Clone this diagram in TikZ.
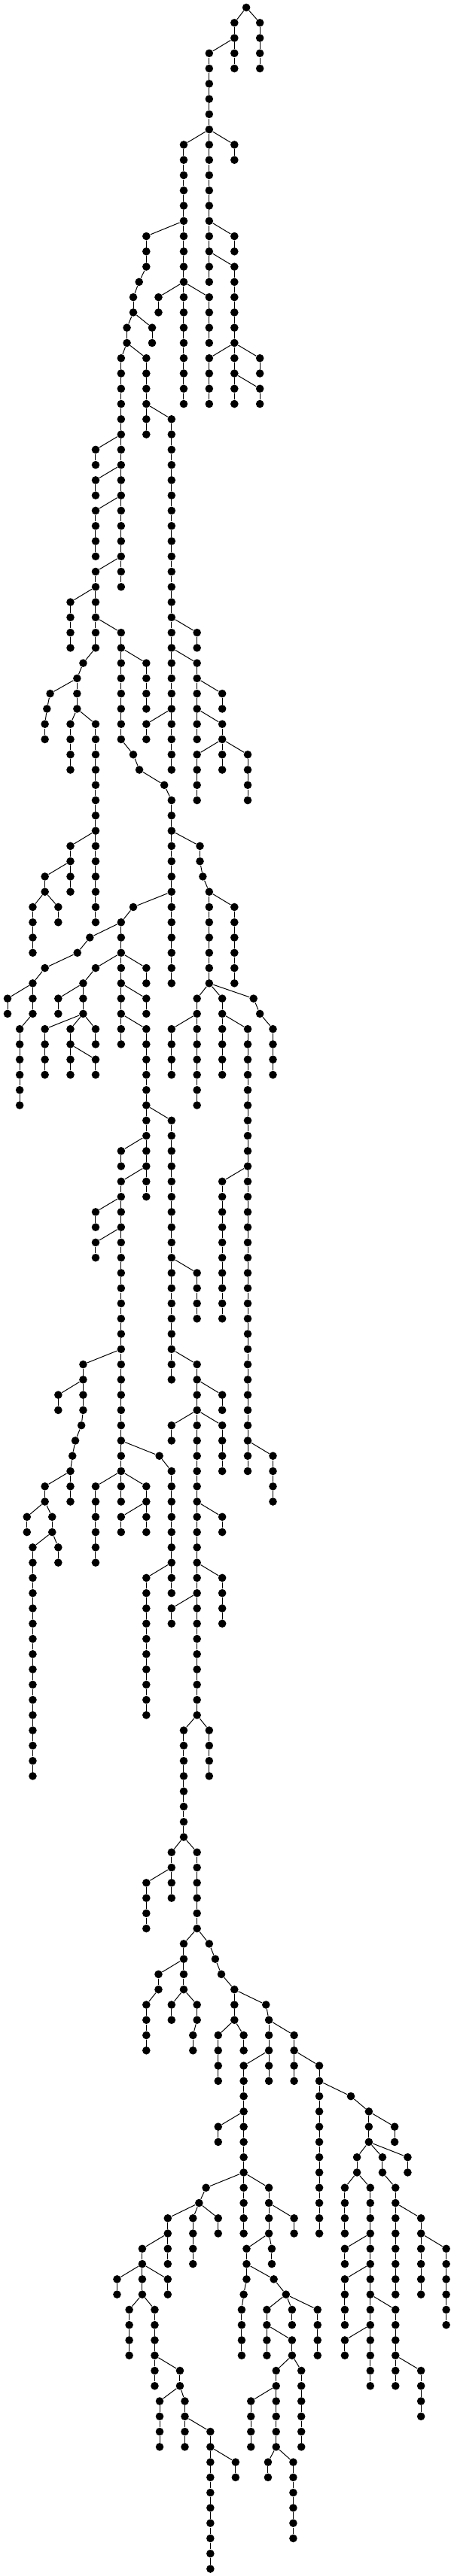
\documentclass[tikz,border=0pt]{standalone}
\usepackage{tikz}
\newcommand{\treerun}[3]{%
  \pgfmathtruncatemacro{\runa}{#2}\pgfmathtruncatemacro{\runb}{#3}%
  \foreach \lev in {\runa,...,\runb}{%
    \node[dot] (n-#1-\lev) at (#1,\lev) {};
    \ifnum\lev>\runa\relax
      \pgfmathtruncatemacro{\prevlev}{\lev-1}\draw (n-#1-\prevlev) -- (n-#1-\lev);
    \fi
  }%
}
\newcommand{\treelink}[3]{%
  \pgfmathtruncatemacro{\nextlev}{#2+1}\draw (n-#1-#2) -- (n-#3-\nextlev);%
}
\begin{document}
\begin{tikzpicture}[x=0.38481pt, y=-20.27pt,
      line width=1pt,
      dot/.style={circle, fill=black, draw=none, inner sep=0pt, minimum size=10.6pt}]
  \useasboundingbox (0,-0.4933) rectangle (1554,168.47);
  \foreach \px/\pa/\pb in {850/0/0, 897/1/4, 809/1/4, 722/3/18, 809/9/10, 634/9/26,
      547/19/20, 722/19/22, 809/15/16, 809/17/26, 722/23/26, 897/23/24, 897/25/26,
      505/15/17, 480/18/18, 460/19/20, 525/21/22, 438/21/22, 418/23/38, 505/23/28,
      330/29/30, 330/31/32, 330/33/36, 330/37/42, 243/39/42, 418/41/48, 505/43/46,
      460/49/49, 481/50/50, 567/51/51, 592/52/64, 690/55/56, 700/57/57, 722/58/64, 809/59/64,
      592/27/50, 680/41/42, 680/43/48, 767/45/46, 767/47/50, 680/49/52, 855/49/52, 505/47/48,
      287/43/43, 266/44/46, 173/45/45, 162/46/46, 155/47/48, 243/47/50, 330/47/60,
      243/55/58, 155/57/58, 113/59/62, 201/59/60,
      680/65/72, 592/67/70, 767/65/70, 855/67/96, 767/77/86, 942/95/98, 875/65/65, 897/66/66, 942/67/70,
      460/59/59, 418/60/68, 310/61/61, 267/62/62, 155/63/63, 113/64/66, 26/65/66, 68/67/72,
      330/63/63, 287/64/66, 201/65/66, 155/67/70, 243/67/70, 330/69/70, 330/67/68,
      505/63/64, 505/65/66, 505/67/78, 418/75/76, 418/77/98, 330/79/80, 330/81/82,
      287/89/92, 201/91/92, 281/93/93, 260/94/94, 250/95/95, 243/96/98, 155/97/98,
      93/99/100, 180/99/100, 113/101/116, 201/101/102,
      550/95/95, 592/96/104, 505/103/112, 330/97/102, 505/97/100, 418/99/100,
      592/73/90, 680/83/86, 680/89/112, 767/91/92, 592/93/94, 767/93/96, 767/99/100,
      767/103/106, 592/105/106,
      722/113/116, 634/113/120, 592/121/124, 505/123/126, 680/121/126,
      634/127/130, 547/129/130, 505/131/134, 592/131/132, 680/131/132, 666/133/134,
      722/127/127, 743/128/128, 764/129/129, 809/130/132, 753/133/136, 841/133/134,
      918/131/131, 928/132/136, 841/135/146, 753/139/140, 1015/133/136, 1102/135/146,
      1211/137/137, 1273/138/140, 1362/139/140, 1407/141/142, 1320/141/142, 1365/143/150,
      1453/145/150, 1540/147/152,
      1232/141/142, 1190/143/146, 1278/143/156, 1190/147/148, 1190/149/152, 1190/153/154,
      1365/151/156, 1453/155/158,
      711/143/143, 687/144/144, 753/145/146, 666/145/148, 579/145/148, 491/147/150,
      404/149/150, 579/149/150,
      446/151/154, 534/151/156, 621/155/156, 551/157/160, 638/157/160, 726/159/168, 813/161/162,
      928/143/146, 1015/145/146, 938/147/148, 851/147/149, 841/150/150, 834/151/154,
      945/149/149, 987/150/150,
      921/151/154, 1008/153/154, 953/155/160, 866/157/160, 925/161/162, 1012/161/166,
      1040/155/160, 1008/151/152, 1096/151/154}
    {\treerun{\px}{\pa}{\pb}}
  \foreach \px/\pl/\cx in {850/0/809, 850/0/897, 809/2/722,
      722/8/634, 722/8/809, 722/14/809, 722/16/809,
      634/14/505, 634/18/547, 634/18/722,
      809/22/722, 809/22/897, 809/24/897,
      505/17/480, 480/18/460, 460/20/438, 460/20/525,
      438/22/418, 438/22/505, 505/26/592,
      418/28/330, 418/30/330, 418/32/330, 418/36/330,
      330/38/243, 330/40/418, 330/42/287,
      418/42/505, 418/48/460, 460/49/481, 481/50/567, 567/51/592,
      592/40/680, 592/42/680, 592/46/505,
      680/44/767, 680/46/767, 767/48/680, 767/48/855,
      287/43/266, 266/44/173, 266/46/243, 266/46/330, 173/45/162, 162/46/155,
      330/54/243, 243/56/155, 155/58/113, 155/58/201,
      592/54/690, 592/58/460, 690/56/700, 700/57/722,
      722/58/809, 722/64/680, 722/64/767, 722/64/875,
      680/66/592, 767/66/855, 875/65/897, 897/66/942,
      855/76/767, 855/94/942,
      460/59/418, 418/60/310, 418/62/330, 418/62/505, 418/64/505, 418/66/505,
      310/61/267, 267/62/155, 155/63/113, 113/64/26, 113/66/68,
      330/63/287, 287/64/201, 287/66/155, 287/66/243, 287/66/330, 243/68/330,
      505/72/592, 505/74/418, 505/76/418,
      418/78/330, 418/80/330, 418/88/287, 418/94/550, 418/96/330, 418/96/505,
      287/90/201, 287/92/281, 281/93/260, 260/94/250, 250/95/243, 243/96/155,
      155/98/93, 155/98/180, 180/100/113, 180/100/201,
      550/95/592, 592/102/505, 505/98/418,
      592/82/680, 592/88/680,
      680/90/767, 680/92/592, 680/92/767, 680/98/767, 680/102/767, 680/104/592,
      680/112/634, 680/112/722,
      634/120/592, 634/120/680, 592/122/505,
      680/126/634, 680/126/722,
      634/128/547, 634/130/592, 634/130/680, 547/130/505, 680/132/666,
      722/127/743, 743/128/764, 764/129/809,
      809/130/918, 809/132/753, 809/132/841,
      918/131/928, 928/132/1015, 928/134/841,
      841/138/753, 841/142/711, 841/142/928,
      1015/134/1102, 1102/136/1211, 1211/137/1273,
      1273/138/1362, 1273/140/1232, 1273/140/1320, 1273/140/1407,
      1320/142/1365, 1365/144/1453, 1453/146/1540,
      1232/142/1190, 1232/142/1278,
      1278/146/1190, 1278/148/1190, 1278/150/1365, 1278/152/1190,
      1365/154/1453,
      711/143/687, 687/144/579, 687/144/666, 687/144/753,
      579/146/491, 491/148/404, 491/148/579, 491/150/446, 491/150/534,
      534/154/621, 621/156/551, 621/156/638, 638/158/726, 726/160/813,
      928/144/1015, 928/146/851, 928/146/938,
      851/148/945, 851/149/841, 841/150/834,
      945/149/987, 987/150/921, 987/150/1008, 987/150/1096,
      921/152/1008, 1008/154/953, 1008/154/1040,
      953/156/866, 953/160/925, 953/160/1012}
    {\treelink{\px}{\pl}{\cx}}
\end{tikzpicture}
\end{document}
